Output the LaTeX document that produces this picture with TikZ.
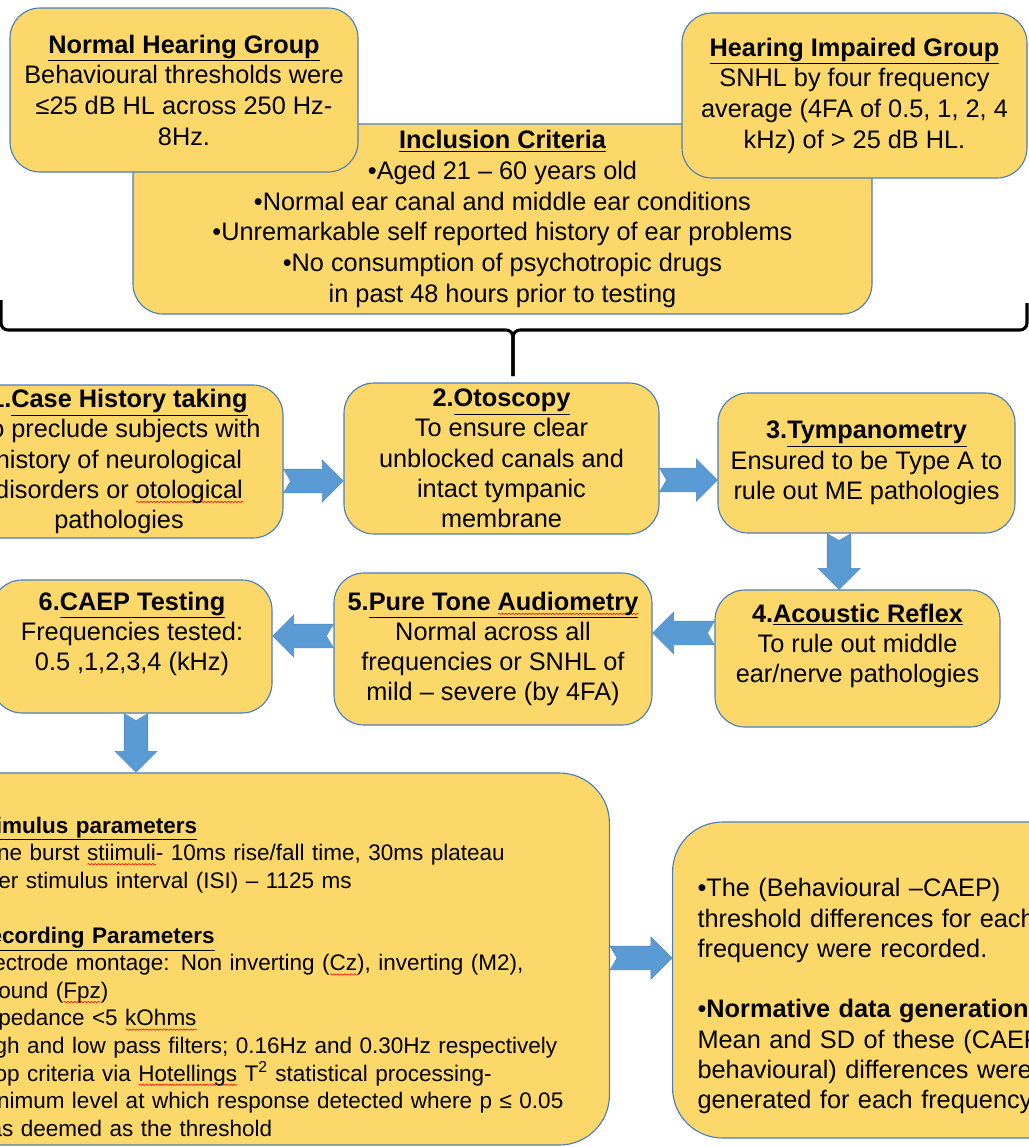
\documentclass[tikz,border=0pt]{standalone}
\usepackage{fontspec}
\setmainfont{Liberation Sans}
\usetikzlibrary{calc,decorations.pathmorphing}
\definecolor{gold}{HTML}{FCD76A}
\definecolor{edge}{HTML}{4A7EBB}
\definecolor{arrowblue}{HTML}{5B9BD5}
\newsavebox\spellbox
\newcommand{\spell}[1]{\sbox\spellbox{#1}\rlap{\tikz[baseline=0pt,x=1pt,y=1pt,sharp corners]\draw[red,line width=.4pt,decorate,decoration={snake,amplitude=.5pt,segment length=2.4pt}] (0,-2.6)--(\wd\spellbox,-2.6);}#1}
\begin{document}
\begin{tikzpicture}[x=.025cm,y=-.025cm,
  box/.style={draw=edge,line width=.8pt,fill=gold,rounded corners=.75cm,align=center,inner sep=0pt,font=\fontsize{18}{21.5}\selectfont},
  sz/.style 2 args={minimum width=#1*.025cm,minimum height=#2*.025cm},
  blk/.style={fill=arrowblue,draw=arrowblue!85!black,line width=.3pt,to path={let \p1=(\tikztostart),\p2=(\tikztotarget),\n1={atan2(\y2-\y1,\x2-\x1)},\n2={veclen(\x2-\x1,\y2-\y1)} in
    ([shift={(\p1)},rotate=\n1]5pt,0pt)--([shift={(\p1)},rotate=\n1]0pt,8.5pt)--([shift={(\p1)},rotate=\n1]\n2-15pt,8.5pt)--([shift={(\p1)},rotate=\n1]\n2-15pt,15pt)--(\p2)
    --([shift={(\p1)},rotate=\n1]\n2-15pt,-15pt)--([shift={(\p1)},rotate=\n1]\n2-15pt,-8.5pt)--([shift={(\p1)},rotate=\n1]0pt,-8.5pt)--cycle}}]
\useasboundingbox (0,0) rectangle (1029,1147);
\clip (0,0) rectangle (1029,1147);
% groups and inclusion criteria
\node[box,sz={739}{190},font=\fontsize{18}{21.8}\selectfont] (incl) at (502.5,219) {\textbf{\underline{Inclusion Criteria}}\\•Aged 21 – 60 years old\\•Normal ear canal and middle ear conditions\\•Unremarkable self reported history of ear problems\\•No consumption of psychotropic drugs\\in past 48 hours prior to testing};
\node[box,sz={348}{164},font=\fontsize{18}{21.8}\selectfont] (nhg) at (184,90) {\textbf{\underline{Normal Hearing Group}}\\Behavioural thresholds were\\≤25 dB HL across 250 Hz-\\8Hz.};
\node[box,sz={345}{165},font=\fontsize{18}{21.8}\selectfont] (hig) at (854.5,95.5) {\textbf{\underline{Hearing Impaired Group}}\\SNHL by four frequency\\average (4FA of 0.5, 1, 2, 4\\kHz) of > 25 dB HL.};
\draw[line width=2.2pt,rounded corners=5pt] (1,300)--(1,330)--(513,330)--(513,376);
\draw[line width=2.2pt,rounded corners=5pt] (1027,303)--(1027,330)--(513,330)--(513,376);
% test sequence
\node[box,sz={328}{153}] (case) at (119,461.5) {\textbf{1.\underline{Case History taking}}\\To preclude subjects with\\history of neurological\\disorders or \spell{otological}\\pathologies};
\node[box,sz={315}{151}] (oto) at (501.5,458.5) {\textbf{2.\underline{Otoscopy}}\\To ensure clear\\unblocked canals and\\intact tympanic\\membrane};
\node[box,sz={297}{140}] (tymp) at (866.5,463) {\textbf{3.\underline{Tympanometry}}\\Ensured to be Type A to\\rule out ME pathologies};
\node[box,sz={285}{137}] (acou) at (857.5,658.5) {\textbf{4.\underline{Acoustic Reflex}}\\To rule out middle\\ear/nerve pathologies\\\mbox{}};
\node[box,sz={318}{152}] (pure) at (493,649) {\textbf{5.\underline{Pure Tone \spell{Audiometry}}}\\Normal across all\\frequencies or SNHL of\\mild – severe (by 4FA)};
\node[box,sz={280}{133}] (caep) at (132,646.5) {\textbf{6.\underline{CAEP Testing}}\\Frequencies tested:\\0.5 ,1,2,3,4 (kHz)\\\mbox{}};
\node[box,sz={0}{372},rounded corners=1.25cm,anchor=east,align=left,inner xsep=1.05cm,text width=14.85cm,font=\fontsize{16}{19.6}\selectfont] (stim) at (610,959) {\mbox{}\\[17pt]
\textbf{\underline{Stimulus parameters}}\\
Tone burst \spell{stiimuli}- 10ms rise/fall time, 30ms plateau\\
Inter stimulus interval (ISI) – 1125 ms\\[19.6pt]
\textbf{\underline{Recording Parameters}}\\
Electrode montage: Non inverting (\spell{Cz}), inverting (M2),\\
Ground (\spell{Fpz})\\
Impedance <5 \spell{kOhms}\\
High and low pass filters; 0.16Hz and 0.30Hz respectively\\
Stop criteria via \spell{Hotellings} T\textsuperscript{2} statistical processing-\\
Minimum level at which response detected where p ≤ 0.05\\
was deemed as the threshold};
\node[box,sz={0}{316},rounded corners=1.25cm,anchor=west,align=left,inner xsep=.625cm,text width=9.5cm] (norm) at (672,980) {\mbox{}\\[14.5pt]
•The (Behavioural –CAEP)\\threshold differences for each\\frequency were recorded.\\[21.5pt]
•\textbf{Normative data generation:}\\Mean and SD of these (CAEP –\\behavioural) differences were\\generated for each frequency.};
% block arrows
\path[blk] (case.east |- 0,481) to (oto.west |- 0,481);
\path[blk] (oto.east |- 0,480) to (tymp.west |- 0,480);
\path[blk] (tymp.south -| 839,0) to (acou.north -| 839,0);
\path[blk] (acou.west |- 0,633) to (pure.east |- 0,633);
\path[blk] (pure.west |- 0,636) to (caep.east |- 0,636);
\path[blk] (caep.south -| 136,0) to (stim.north -| 136,0);
\path[blk] (stim.east |- 0,958) to (norm.west |- 0,958);
\end{tikzpicture}
\end{document}
